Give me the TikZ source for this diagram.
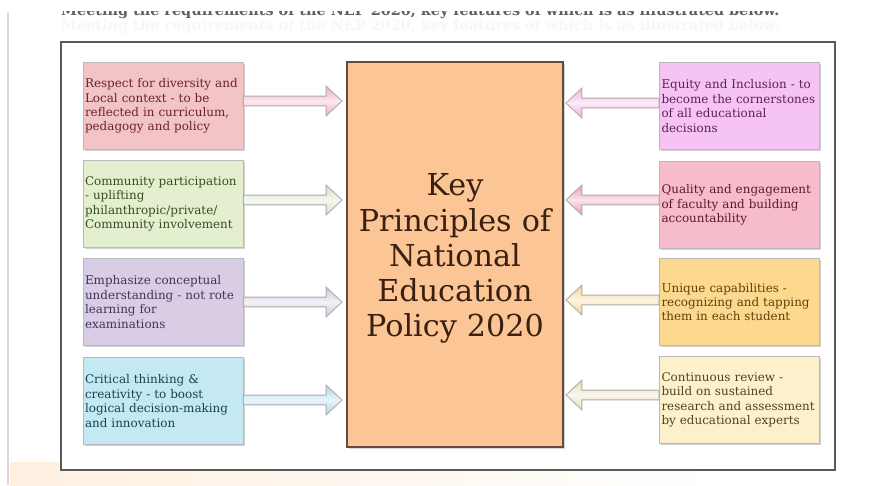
\documentclass[tikz,border=0pt]{standalone}
\usepackage{fontspec}
\setmainfont{DejaVu Serif}
\usetikzlibrary{calc,shadows}

\definecolor{keyfill}{HTML}{FBC596}
\definecolor{keytext}{HTML}{3A2010}
\definecolor{lonefill}{HTML}{F2C4C6}
\definecolor{ltwofill}{HTML}{E4EFCF}
\definecolor{lthreefill}{HTML}{D9CDE6}
\definecolor{lfourfill}{HTML}{C4E9F2}
\definecolor{ronefill}{HTML}{F6C4F2}
\definecolor{rtwofill}{HTML}{F6BCCB}
\definecolor{rthreefill}{HTML}{FCD98E}
\definecolor{rfourfill}{HTML}{FDF1CC}
\definecolor{lonetext}{HTML}{6E2228}
\definecolor{ltwotext}{HTML}{35501F}
\definecolor{lthreetext}{HTML}{43325A}
\definecolor{lfourtext}{HTML}{18434F}
\definecolor{ronetext}{HTML}{5E1F60}
\definecolor{rtwotext}{HTML}{601828}
\definecolor{rthreetext}{HTML}{5E400A}
\definecolor{rfourtext}{HTML}{52421F}
\definecolor{lonearrow}{HTML}{F2A8C0}
\definecolor{ltwoarrow}{HTML}{D4E0C0}
\definecolor{lthreearrow}{HTML}{CFC6DA}
\definecolor{lfourarrow}{HTML}{A8D8EA}
\definecolor{ronearrow}{HTML}{F2B0E0}
\definecolor{rtwoarrow}{HTML}{EE98B0}
\definecolor{rthreearrow}{HTML}{F6D48A}
\definecolor{rfourarrow}{HTML}{E8DCB8}

\tikzset{
  pbox/.style={draw=gray!55, line width=0.5pt, minimum width=3.2cm, minimum height=1.74cm,
    text width=3.12cm, inner xsep=0.04cm, align=left, font=\fontsize{6.8}{8.2}\selectfont,
    drop shadow={shadow xshift=1.1pt, shadow yshift=-1.1pt, fill=gray!70}},
  keybox/.style={draw=keytext!80, line width=1.2pt, fill=keyfill, minimum width=4.32cm,
    minimum height=7.7cm,
    drop shadow={shadow xshift=0.9pt, shadow yshift=-0.9pt, fill=gray!60}},
  keytitle/.style={text width=4.2cm, align=center, text=keytext,
    font=\fontsize{17.2}{20}\selectfont},
  arrowline/.style={draw=gray!65, line width=0.5pt},
}

% block arrow: tail, tip, colour
\newcommand{\fatarrow}[3]{%
  \path[arrowline, top color=#3, bottom color=#3, middle color=#3!25]
    let \p1=(#1), \p2=(#2), \n1={ifthenelse(\x2>\x1,1,-1)} in
    (\x1,\y1+2.8pt) -- (\x2-\n1*9pt,\y1+2.8pt) -- (\x2-\n1*9pt,\y1+8.5pt) -- (\x2,\y1)
    -- (\x2-\n1*9pt,\y1-8.5pt) -- (\x2-\n1*9pt,\y1-2.8pt) -- (\x1,\y1-2.8pt) -- cycle;}

\begin{document}
\begin{tikzpicture}[x=0.02cm, y=-0.02cm]
  \useasboundingbox (0,0) rectangle (880,485);
  \fill[white] (0,0) rectangle (880,485);
  % page behind the figure
  \shade[left color=orange!12, right color=white] (10,462) rectangle (720,485);
  \draw[gray!30, line width=0.8pt] (8,12) -- (8,485);
  \begin{scope}
    \clip (40,11) rectangle (800,40);
    \node[anchor=west, text=gray!75!black, font=\fontsize{8.2}{10}\bfseries\selectfont] (topline) at (55,12)
      {Meeting the requirements of the NEP 2020, key features of which is as illustrated below.};
    \node[anchor=west, text=gray!6, font=\fontsize{8.2}{10}\bfseries\selectfont] (ghost) at (55,27)
      {Meeting the requirements of the NEP 2020, key features of which is as illustrated below.};
  \end{scope}
  \draw[fill=white, draw=gray!70!black, line width=0.9pt] (61,42) rectangle (835,470);

  % centre
  \node[keybox] (key) at (455,254.5) {};
  \node[keytitle] (title) at ($(key.center)+(0,4)$) {Key\\ Principles of\\ National\\ Education\\ Policy 2020};

  % left column
  \node[pbox, fill=lonefill, text=lonetext] (l1) at (163,106)
    {Respect for diversity and\\ Local context - to be\\ reflected in curriculum,\\ pedagogy and policy};
  \node[pbox, fill=ltwofill, text=ltwotext] (l2) at (163,204)
    {Community participation\\ - uplifting\\ philanthropic/private/\\ Community involvement};
  \node[pbox, fill=lthreefill, text=lthreetext] (l3) at (163,302)
    {Emphasize conceptual\\ understanding - not rote\\ learning for\\ examinations};
  \node[pbox, fill=lfourfill, text=lfourtext] (l4) at (163,401)
    {Critical thinking \&\\ creativity - to boost\\ logical decision-making\\ and innovation};

  % right column
  \node[pbox, fill=ronefill, text=ronetext] (r1) at (739.5,106)
    {Equity and Inclusion - to\\ become the cornerstones\\ of all educational\\ decisions};
  \node[pbox, fill=rtwofill, text=rtwotext] (r2) at (739.5,205)
    {Quality and engagement\\ of faculty and building\\ accountability};
  \node[pbox, fill=rthreefill, text=rthreetext] (r3) at (739.5,302)
    {Unique capabilities -\\ recognizing and tapping\\ them in each student};
  \node[pbox, fill=rfourfill, text=rfourtext] (r4) at (739.5,400)
    {Continuous review -\\ build on sustained\\ research and assessment\\ by educational experts};

  % arrows into the centre
  \coordinate (t1) at ($(l1.east)+(0,-5)$);
  \coordinate (t2) at ($(l2.east)+(0,-4)$);
  \coordinate (t3) at ($(l3.east)+(0,0)$);
  \coordinate (t4) at ($(l4.east)+(0,-1)$);
  \coordinate (t5) at ($(r1.west)+(0,-3)$);
  \coordinate (t6) at ($(r2.west)+(0,-5)$);
  \coordinate (t7) at ($(r3.west)+(0,-2)$);
  \coordinate (t8) at ($(r4.west)+(0,-5)$);
  \fatarrow{t1}{$(t1 -| key.west)+(-4,0)$}{lonearrow}
  \fatarrow{t2}{$(t2 -| key.west)+(-4,0)$}{ltwoarrow}
  \fatarrow{t3}{$(t3 -| key.west)+(-4,0)$}{lthreearrow}
  \fatarrow{t4}{$(t4 -| key.west)+(-4,0)$}{lfourarrow}
  \fatarrow{t5}{$(t5 -| key.east)+(2,0)$}{ronearrow}
  \fatarrow{t6}{$(t6 -| key.east)+(2,0)$}{rtwoarrow}
  \fatarrow{t7}{$(t7 -| key.east)+(2,0)$}{rthreearrow}
  \fatarrow{t8}{$(t8 -| key.east)+(2,0)$}{rfourarrow}
\end{tikzpicture}
\end{document}
